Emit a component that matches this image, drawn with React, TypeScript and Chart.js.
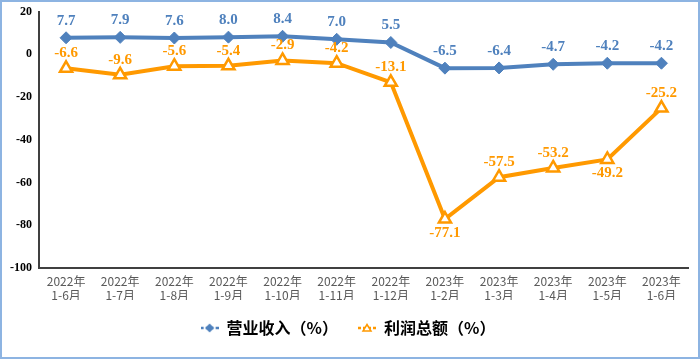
import React, { useEffect, useRef } from "react";
import { Chart, registerables } from "chart.js";

Chart.register(...registerables);

const categories: string[][] = [
  ["2022年", "1-6月"], ["2022年", "1-7月"], ["2022年", "1-8月"], ["2022年", "1-9月"],
  ["2022年", "1-10月"], ["2022年", "1-11月"], ["2022年", "1-12月"], ["2023年", "1-2月"],
  ["2023年", "1-3月"], ["2023年", "1-4月"], ["2023年", "1-5月"], ["2023年", "1-6月"],
];
const revenue = [7.7, 7.9, 7.6, 8.0, 8.4, 7.0, 5.5, -6.5, -6.4, -4.7, -4.2, -4.2];
const profit = [-6.6, -9.6, -5.6, -5.4, -2.9, -4.2, -13.1, -77.1, -57.5, -53.2, -49.2, -25.2];
const profitBelow = [7, 10];
const seriesNames = ["营业收入（%）", "利润总额（%）"];
const yMin = -100;
const yMax = 20;
const yStep = 20;

const BLUE = "#4F81BD";
const ORANGE = "#FF9900";

function legendIcon(kind: "diamond" | "triangle", color: string): HTMLCanvasElement {
  const c = document.createElement("canvas");
  c.width = 18;
  c.height = 12;
  const ctx = c.getContext("2d")!;
  ctx.strokeStyle = color;
  ctx.lineWidth = 2.5;
  ctx.setLineDash([3, 2]);
  ctx.beginPath();
  ctx.moveTo(0, 6);
  ctx.lineTo(18, 6);
  ctx.stroke();
  ctx.setLineDash([]);
  if (kind === "diamond") {
    ctx.fillStyle = color;
    ctx.beginPath();
    ctx.moveTo(9, 1.5);
    ctx.lineTo(13.5, 6);
    ctx.lineTo(9, 10.5);
    ctx.lineTo(4.5, 6);
    ctx.closePath();
    ctx.fill();
  } else {
    ctx.fillStyle = "#fff";
    ctx.lineWidth = 1.5;
    ctx.beginPath();
    ctx.moveTo(9, 2.5);
    ctx.lineTo(13, 9);
    ctx.lineTo(5, 9);
    ctx.closePath();
    ctx.fill();
    ctx.stroke();
  }
  return c;
}

const labelPlugin = {
  id: "valueLabels",
  afterDatasetsDraw(chart: any) {
    const ctx = chart.ctx;
    ctx.save();
    ctx.font = "bold 15px 'Liberation Serif', 'Times New Roman', serif";
    ctx.textAlign = "center";
    ctx.textBaseline = "middle";
    chart.data.datasets.forEach((ds: any, di: number) => {
      const meta = chart.getDatasetMeta(di);
      meta.data.forEach((pt: any, i: number) => {
        const v = ds.data[i];
        const txt = v.toFixed(1);
        let y: number;
        if (di === 0) {
          y = pt.y - 17;
          ctx.fillStyle = BLUE;
        } else {
          y = profitBelow.includes(i) ? pt.y + 14 : pt.y - 15;
          ctx.fillStyle = ORANGE;
        }
        ctx.fillText(txt, pt.x, y);
      });
    });
    ctx.restore();
  },
};

export default function App() {
  const ref = useRef<HTMLCanvasElement | null>(null);
  useEffect(() => {
    document.body.style.margin = "0";
    const icons = [legendIcon("diamond", BLUE), legendIcon("triangle", ORANGE)];
    const chart = new Chart(ref.current!, {
      type: "line",
      data: {
        labels: categories,
        datasets: [
          {
            label: seriesNames[0],
            data: revenue,
            borderColor: BLUE,
            backgroundColor: BLUE,
            borderWidth: 4,
            pointStyle: "rectRot",
            pointRadius: 6,
            pointBackgroundColor: BLUE,
            pointBorderColor: BLUE,
            pointBorderWidth: 1,
            tension: 0,
          },
          {
            label: seriesNames[1],
            data: profit,
            borderColor: ORANGE,
            backgroundColor: "#fff",
            borderWidth: 4,
            pointStyle: "triangle",
            pointRadius: 7,
            pointBackgroundColor: "#fff",
            pointBorderColor: ORANGE,
            pointBorderWidth: 2.5,
            tension: 0,
          },
        ],
      },
      options: {
        animation: false,
        responsive: false,
        layout: { padding: { top: 9, left: 0, right: 4, bottom: 11 } },
        plugins: {
          tooltip: { enabled: false },
          legend: {
            position: "bottom",
            labels: {
              usePointStyle: true,
              pointStyleWidth: 18,
              padding: 20,
              color: "#000",
              font: { family: "'Noto Sans CJK SC', sans-serif", size: 16, weight: "bold" },
              generateLabels: (c: any) =>
                c.data.datasets.map((ds: any, i: number) => ({
                  text: ds.label,
                  pointStyle: icons[i],
                  fillStyle: ds.borderColor,
                  strokeStyle: ds.borderColor,
                  lineWidth: 0,
                  hidden: false,
                  datasetIndex: i,
                  fontColor: "#000",
                })),
            },
          },
        },
        scales: {
          x: {
            offset: true,
            grid: { display: false, drawTicks: false },
            border: { display: true, color: "#404040", width: 2 },
            ticks: {
              padding: 6,
              color: "#595959",
              autoSkip: false,
              maxRotation: 0,
              font: { family: "'Noto Sans CJK SC', sans-serif", size: 12, lineHeight: 1.17 },
            },
            afterFit: (s: any) => { s.height = 32; s.paddingLeft = 0; s.paddingRight = 0; },
          },
          y: {
            min: yMin,
            max: yMax,
            grid: { display: false, drawTicks: false },
            border: { display: true, color: "#404040", width: 2 },
            ticks: {
              stepSize: yStep,
              padding: 7,
              color: "#000",
              font: { family: "'Liberation Serif', serif", size: 12, weight: "bold" },
            },
            afterFit: (s: any) => { s.width = 37; s.paddingTop = 0; s.paddingBottom = 0; },
          },
        },
      },
      plugins: [labelPlugin],
    });
    return () => chart.destroy();
  }, []);
  return (
    <div style={{ width: 700, height: 359, boxSizing: "border-box", border: "2px solid #8DB4E2", background: "#fff" }}>
      <canvas ref={ref} width={696} height={355} style={{ display: "block" }} />
    </div>
  );
}
